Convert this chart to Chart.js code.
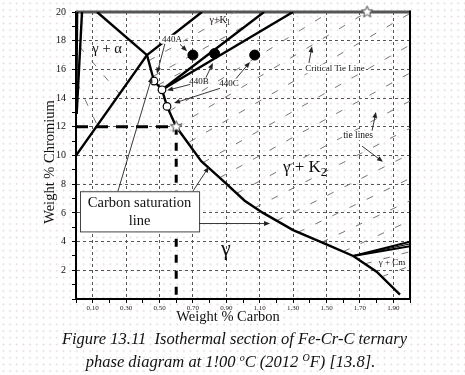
<!DOCTYPE html>
<html>
<head>
<meta charset="utf-8">
<script src="https://cdn.jsdelivr.net/npm/chart.js@4.4.0/dist/chart.umd.min.js"></script>
<style>
html, body { margin: 0; padding: 0; background: #fff; }
#wrap {
  position: relative; width: 465px; height: 375px; background-color: #fff;
  background-image: radial-gradient(circle, #e4d8d8 0.8px, transparent 1.1px);
  background-size: 6.7px 6.7px;
}
#cv { position: absolute; left: 0; top: 0; }
.cap {
  position: absolute; width: 465px; text-align: center; white-space: nowrap;
  font-family: "Liberation Serif", serif; font-style: italic; font-size: 16.5px; color: #111; line-height: 19px;
}
.cap sup { font-size: 10px; line-height: 0; }
</style>
</head>
<body>
<div id="wrap">
  <canvas id="cv" width="465" height="375"></canvas>
  <div class="cap" style="top:329px; left:2px;">Figure 13.11&nbsp; Isothermal section of Fe-Cr-C ternary</div>
  <div class="cap" style="top:352px; left:-2px;">phase diagram at 1!00 <sup>o</sup>C (2012 <sup>O</sup>F) [13.8].</div>
</div>
<script>
var SERIF = '"Liberation Serif", "Times New Roman", serif';

// phase boundaries, [wt% C, wt% Cr]
var alphaLine1 = [[0.036, 20], [0.004, 12.9]];
var alphaLine2 = [[0.008, 20], [0.002, 12.9]];
var gammaAlphaTop = [[0.126, 20], [0.425, 17.0]];
var gammaAlphaLow = [[0, 10], [0.425, 17.0], [0.754, 20]];
var saturationLine = [[0.425, 17.0], [0.467, 15.19], [0.515, 14.58], [0.545, 13.42], [0.6, 12.0],
  [0.75, 9.6], [0.87, 8.35], [1.01, 6.85], [1.12, 6.0], [1.3, 4.8], [1.5, 3.8], [1.66, 3.0],
  [1.8, 1.9], [1.94, 0.3]];
var k1LineA = [[0.515, 14.58], [1.126, 20]];
var k1LineB = [[0.515, 14.58], [1.299, 20]];
var cmLines = [
  [[1.66, 3.0], [2.0, 4.0]],
  [[1.66, 3.0], [2.0, 3.84]],
  [[1.66, 3.0], [2.0, 3.68]]
];

// tie lines
var tieLinesK2 = [
  [[0.56, 13.1], [1.52, 20]],
  [[0.6, 12.0], [1.743, 20]],
  [[0.68, 10.95], [2.0, 19.9]],
  [[0.76, 9.5], [2.0, 17.7]],
  [[0.86, 8.45], [2.0, 15.75]],
  [[0.96, 7.35], [2.0, 13.8]],
  [[1.07, 6.35], [2.0, 11.9]],
  [[1.2, 5.45], [2.0, 10.1]],
  [[1.33, 4.65], [2.0, 8.4]],
  [[1.47, 3.95], [2.0, 6.85]],
  [[1.6, 3.3], [2.0, 5.46]]
];
var tieLinesK1 = [
  [[0.435, 16.6], [0.95, 20]],
  [[0.46, 15.5], [1.03, 19.15]],
  [[0.49, 14.9], [0.71, 16.3]]
];
var tieLinesAlpha = [
  [[0.02, 17.6], [0.26, 14.3]],
  [[0.005, 15.1], [0.128, 12.1]]
];
var tieLinesCm = [
  [[1.73, 2.45], [2.0, 3.3]],
  [[1.83, 1.55], [2.0, 2.3]]
];

// 440 steels, guide lines for 12 % Cr / 0.6 % C
var guideH = [[0, 12], [0.6, 12]];
var guideV = [[0.6, 12], [0.6, 0]];
var steelsFilled = [[0.70, 17.0], [0.83, 17.1], [1.07, 17.0]];
var steelsOpen = [[0.467, 15.19], [0.515, 14.58], [0.545, 13.42]];
var stars = [[0.6, 12], [1.743, 20]];

// labels and arrows (data units)
var notes = [
  { t: 'γ + α', at: [0.186, 17.4], size: 14.5 },
  { t: 'γ+K', sub: '1', at: [0.862, 19.45], size: 10 },
  { t: '440A', at: [0.575, 18.1], size: 9, bg: true },
  { t: '440B', at: [0.737, 15.15], size: 9 },
  { t: '440C', at: [0.916, 15.0], size: 9 },
  { t: 'Critical Tie Line', at: [1.551, 16.04], size: 9, bg: true },
  { t: 'tie lines', at: [1.689, 11.4], size: 9.5, bg: true },
  { t: 'γ + K', sub: '2', at: [1.371, 9.15], size: 17 },
  { t: 'γ', at: [0.898, 3.5], size: 22 },
  { t: 'γ + Cm', at: [1.892, 2.5], size: 9 }
];
var arrows = [
  [[0.251, 7.51], [0.455, 15.49]],
  [[0.70, 7.51], [0.796, 9.22]],
  [[0.737, 5.26], [1.162, 5.26]],
  [[0.623, 17.75], [0.665, 17.27]],
  [[0.533, 17.82], [0.485, 15.70]],
  [[0.778, 15.43], [0.82, 16.45]],
  [[0.683, 14.95], [0.545, 14.54]],
  [[0.958, 15.36], [1.042, 16.52]],
  [[0.862, 14.68], [0.587, 13.65]],
  [[1.395, 16.45], [1.413, 17.61]],
  [[1.772, 11.67], [1.796, 13.04]],
  [[1.713, 10.65], [1.838, 9.56]]
];
var satBox = [[0.024, 7.51], [0.737, 4.71]];
var satText = ['Carbon saturation', 'line'];

function pts(arr) {
  return arr.map(function (p) { return { x: p[0], y: p[1] }; });
}

function lineSet(arr, color, width, dash, order) {
  return {
    data: pts(arr), showLine: true, pointRadius: 0, borderColor: color,
    borderWidth: width, borderDash: dash || [], order: order, tension: 0, fill: false
  };
}

function makeStar(r) {
  var c = document.createElement('canvas');
  c.width = c.height = 2 * r + 3;
  var g = c.getContext('2d');
  g.beginPath();
  for (var i = 0; i < 10; i++) {
    var a = -Math.PI / 2 + i * Math.PI / 5;
    var rr = i % 2 ? r * 0.45 : r;
    g.lineTo(r + 1.5 + rr * Math.cos(a), r + 1.5 + rr * Math.sin(a));
  }
  g.closePath();
  g.fillStyle = '#fff';
  g.fill();
  g.strokeStyle = '#444';
  g.lineWidth = 1;
  g.stroke();
  return c;
}

var datasets = [];
tieLinesAlpha.concat(tieLinesK1, tieLinesK2, tieLinesCm).forEach(function (t) {
  datasets.push(lineSet(t, '#777', 1, [7, 12], 5));
});
[alphaLine1, gammaAlphaTop, gammaAlphaLow, saturationLine, k1LineA, k1LineB].forEach(function (l) {
  datasets.push(lineSet(l, '#000', 2.4, [], 3));
});
datasets.push(lineSet(alphaLine2, '#000', 2, [], 3));
cmLines.forEach(function (l, i) {
  datasets.push(lineSet(l, '#000', i === 1 ? 1 : 2, [], 3));
});
datasets.push(lineSet(guideH, '#000', 3, [12, 8], 2));
datasets.push(lineSet(guideV, '#000', 3, [8, 8], 2));
datasets.push({
  data: pts(steelsFilled), pointRadius: 5, pointBackgroundColor: '#000', pointBorderColor: '#000',
  pointBorderWidth: 1, showLine: false, order: 0
});
datasets.push({
  data: pts(steelsOpen), pointRadius: 3.8, pointBackgroundColor: '#fff', pointBorderColor: '#000',
  pointBorderWidth: 1.2, showLine: false, order: 0
});
datasets.push({
  data: pts(stars), pointStyle: makeStar(6), showLine: false, order: 0, clip: false
});

function drawArrow(ctx, x1, y1, x2, y2) {
  var ang = Math.atan2(y2 - y1, x2 - x1), L = 6, W = 2.4;
  ctx.beginPath();
  ctx.moveTo(x1, y1);
  ctx.lineTo(x2 - Math.cos(ang) * L * 0.8, y2 - Math.sin(ang) * L * 0.8);
  ctx.stroke();
  ctx.beginPath();
  ctx.moveTo(x2, y2);
  ctx.lineTo(x2 - Math.cos(ang) * L - Math.sin(ang) * W, y2 - Math.sin(ang) * L + Math.cos(ang) * W);
  ctx.lineTo(x2 - Math.cos(ang) * L + Math.sin(ang) * W, y2 - Math.sin(ang) * L - Math.cos(ang) * W);
  ctx.closePath();
  ctx.fill();
}

var annotate = {
  id: 'annotate',
  beforeDatasetsDraw: function (chart) {
    var ctx = chart.ctx, a = chart.chartArea;
    ctx.save();
    ctx.strokeStyle = '#555';
    ctx.lineWidth = 3;
    ctx.beginPath();
    ctx.moveTo(a.left, a.top);
    ctx.lineTo(a.right, a.top);
    ctx.stroke();
    ctx.strokeStyle = '#000';
    ctx.lineWidth = 2;
    ctx.beginPath();
    ctx.moveTo(a.right, a.top - 1.5);
    ctx.lineTo(a.right, a.bottom);
    ctx.stroke();
    ctx.restore();
  },
  afterDatasetsDraw: function (chart) {
    var ctx = chart.ctx, xs = chart.scales.x, ys = chart.scales.y;
    var X = function (v) { return xs.getPixelForValue(v); };
    var Y = function (v) { return ys.getPixelForValue(v); };
    ctx.save();

    // carbon saturation box
    var bx = X(satBox[0][0]), by = Y(satBox[0][1]);
    var bw = X(satBox[1][0]) - bx, bh = Y(satBox[1][1]) - by;
    ctx.fillStyle = '#fff';
    ctx.fillRect(bx, by, bw, bh);
    ctx.strokeStyle = '#444';
    ctx.lineWidth = 1;
    ctx.strokeRect(bx + 0.5, by + 0.5, bw, bh);
    ctx.fillStyle = '#111';
    ctx.font = '14.5px ' + SERIF;
    ctx.textAlign = 'center';
    ctx.textBaseline = 'middle';
    ctx.fillText(satText[0], bx + bw / 2, by + bh * 0.29);
    ctx.fillText(satText[1], bx + bw / 2, by + bh * 0.74);

    // arrows
    ctx.strokeStyle = '#222';
    ctx.fillStyle = '#222';
    ctx.lineWidth = 0.9;
    arrows.forEach(function (ar) {
      drawArrow(ctx, X(ar[0][0]), Y(ar[0][1]), X(ar[1][0]), Y(ar[1][1]));
    });

    // text labels
    notes.forEach(function (n) {
      var cx = X(n.at[0]), cy = Y(n.at[1]);
      ctx.font = n.size + 'px ' + SERIF;
      var w1 = ctx.measureText(n.t).width, w2 = 0, ss = n.size * 0.72;
      if (n.sub) {
        ctx.font = ss + 'px ' + SERIF;
        w2 = ctx.measureText(n.sub).width;
      }
      var w = w1 + w2, left = cx - w / 2;
      if (n.bg) {
        ctx.fillStyle = '#fff';
        ctx.fillRect(left - 1, cy - n.size * 0.5, w + 2, n.size);
      }
      ctx.fillStyle = '#111';
      ctx.textAlign = 'left';
      ctx.textBaseline = 'middle';
      ctx.font = n.size + 'px ' + SERIF;
      ctx.fillText(n.t, left, cy);
      if (n.sub) {
        ctx.font = ss + 'px ' + SERIF;
        ctx.fillText(n.sub, left + w1, cy + n.size * 0.32);
      }
    });

    // axis titles
    ctx.fillStyle = '#111';
    ctx.font = '14.5px ' + SERIF;
    ctx.textAlign = 'center';
    ctx.textBaseline = 'middle';
    ctx.fillText('Weight % Carbon', 228, 317);
    ctx.translate(50, 162);
    ctx.rotate(-Math.PI / 2);
    ctx.fillText('Weight % Chromium', 0, 0);
    ctx.restore();
  }
};

new Chart(document.getElementById('cv'), {
  type: 'scatter',
  data: { datasets: datasets },
  options: {
    responsive: false,
    animation: false,
    devicePixelRatio: 1,
    events: [],
    layout: { padding: { left: 0, right: 55, top: 6, bottom: 56 } },
    plugins: { legend: { display: false }, tooltip: { enabled: false } },
    scales: {
      x: {
        type: 'linear', min: 0, max: 2,
        ticks: {
          stepSize: 0.1, autoSkip: false, maxRotation: 0, padding: 1,
          color: '#222', font: { family: SERIF, size: 7 },
          callback: function (v) { return Math.round(v * 10) % 2 === 1 ? v.toFixed(2) : ''; }
        },
        grid: {
          color: function (c) {
            return c.tick && Math.round(c.tick.value * 10) % 2 === 1 ? '#555' : 'rgba(0,0,0,0)';
          },
          tickColor: '#000', tickLength: 4, lineWidth: 1
        },
        border: { display: true, color: '#000', width: 2, dash: [3, 3] },
        afterFit: function (s) { s.height = 20; }
      },
      y: {
        type: 'linear', min: 0, max: 20,
        ticks: {
          stepSize: 1, autoSkip: false, padding: 6,
          color: '#111', font: { family: SERIF, size: 10 },
          callback: function (v) { return v % 2 === 0 && v > 0 ? v : ''; }
        },
        grid: {
          color: function (c) {
            var v = c.tick ? c.tick.value : 0;
            return v % 2 === 0 && v > 0 && v < 20 ? '#555' : 'rgba(0,0,0,0)';
          },
          tickColor: '#000', tickLength: 4, lineWidth: 1
        },
        border: { display: true, color: '#000', width: 2, dash: [3, 3] },
        afterFit: function (s) { s.width = 76; }
      }
    }
  },
  plugins: [annotate]
});
</script>
</body>
</html>
